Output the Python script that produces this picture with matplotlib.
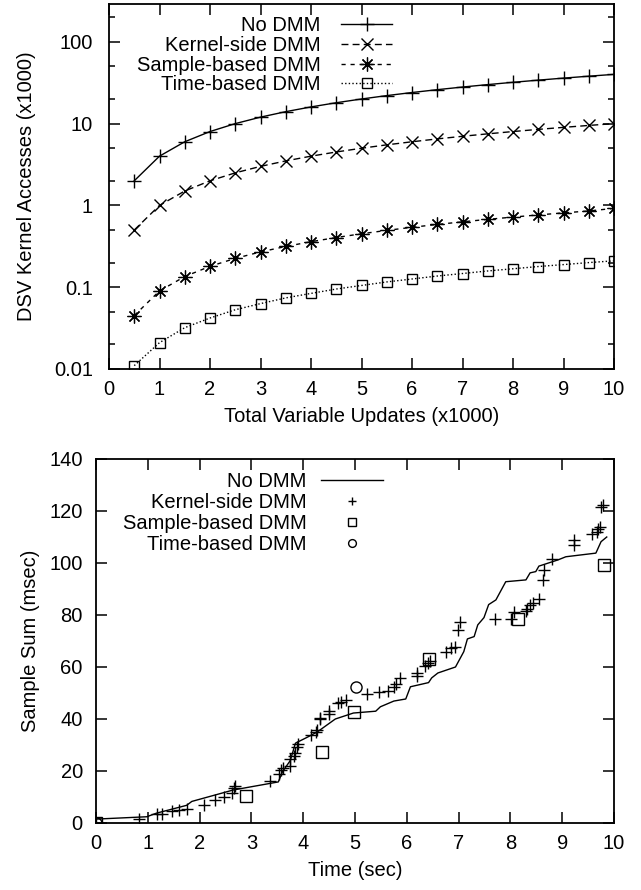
import matplotlib
matplotlib.use("Agg")
import matplotlib.pyplot as plt
from matplotlib.ticker import FixedLocator, FuncFormatter, MultipleLocator


# =========================
# STYLE
# =========================
plt.rcParams["font.family"] = ["Liberation Sans", "DejaVu Sans"]
plt.rcParams["font.size"] = 14.5
plt.rcParams["axes.linewidth"] = 1.3


# =========================
# DATA - top panel (x1000)
# =========================
UPDATES = [0.5, 1.0, 1.5, 2.0, 2.5, 3.0, 3.5, 4.0, 4.5, 5.0,
           5.5, 6.0, 6.5, 7.0, 7.5, 8.0, 8.5, 9.0, 9.5, 10.0]
NO_DMM_ACC = [2, 4, 6, 8, 10, 12, 14, 16, 18, 20,
              22, 24, 26, 28, 30, 32, 34, 36, 38, 40]
KERNEL_ACC = [0.5, 1.0, 1.5, 2.0, 2.5, 3.0, 3.5, 4.0, 4.5, 5.0,
              5.5, 6.0, 6.5, 7.0, 7.5, 8.0, 8.5, 9.0, 9.5, 10.0]
SAMPLE_ACC = [0.045, 0.09, 0.135, 0.18, 0.225, 0.27, 0.315, 0.36, 0.405, 0.45,
              0.495, 0.54, 0.585, 0.63, 0.675, 0.72, 0.765, 0.81, 0.855, 0.92]
TIMEB_ACC = [0.011, 0.021, 0.032, 0.042, 0.053, 0.063, 0.074, 0.084, 0.095, 0.105,
             0.116, 0.126, 0.137, 0.147, 0.158, 0.168, 0.179, 0.189, 0.2, 0.21]

# =========================
# DATA - bottom panel
# =========================
NO_DMM_T = [0.0, 0.98, 1.17, 1.5, 1.75, 1.85, 2.65, 3.52, 3.6, 3.75, 3.85,
            4.08, 4.27, 4.62, 4.97, 5.4, 5.49, 5.75, 5.98, 6.07, 6.42, 6.48,
            6.6, 6.94, 7.1, 7.17, 7.3, 7.37, 7.49, 7.58, 7.72, 7.91, 8.3,
            8.38, 8.49, 8.55, 8.92, 9.07, 9.65, 9.75, 9.86]
NO_DMM_SUM = [1.5, 2.4, 3.8, 5.5, 6.8, 8.3, 12.7, 15.8, 19.7, 24.0, 30.7,
              33.0, 35.0, 40.0, 42.3, 43.0, 44.7, 46.9, 47.7, 52.4, 54.0, 55.8,
              57.7, 60.0, 65.9, 70.8, 71.7, 76.2, 79.0, 84.0, 85.8, 92.8, 93.5,
              96.2, 96.7, 98.8, 101.2, 102.4, 103.8, 108.2, 110.0]

KERNEL_T = [0.0, 0.83, 1.17, 1.27, 1.46, 1.61, 1.75, 2.08, 2.3, 2.48, 2.62,
            2.67, 2.69, 3.35, 3.54, 3.57, 3.61, 3.75, 3.75, 3.82, 3.85, 3.88,
            3.9, 4.15, 4.24, 4.27, 4.32, 4.33, 4.49, 4.49, 4.67, 4.73, 4.82,
            5.24, 5.47, 5.63, 5.76, 5.8, 5.87, 6.19, 6.2, 6.36, 6.4, 6.45,
            6.76, 6.86, 6.94, 6.98, 7.02, 7.7, 8.01, 8.07, 8.3, 8.33, 8.38,
            8.43, 8.56, 8.62, 8.65, 8.81, 9.22, 9.23, 9.57, 9.67, 9.7, 9.73,
            9.75, 9.78]
KERNEL_SUM = [0.0, 1.6, 3.3, 3.3, 4.7, 5.0, 5.3, 6.8, 8.7, 10.1, 11.4,
              13.3, 14.3, 16.3, 18.7, 20.4, 21.0, 21.9, 24.8, 25.8, 27.0, 29.3,
              30.3, 33.8, 35.1, 35.8, 40.0, 40.3, 42.1, 43.1, 46.0, 46.7, 47.3,
              49.6, 50.5, 50.8, 52.4, 53.3, 55.9, 56.7, 57.8, 60.4, 61.4, 62.3,
              65.6, 67.4, 67.8, 74.2, 77.4, 78.5, 78.5, 81.3, 81.7, 82.5, 83.8,
              84.5, 86.3, 93.5, 97.5, 101.5, 106.9, 108.8, 111.2, 112.0, 112.9, 113.7,
              121.6, 122.3]

SAMPLE_T = [0.0, 2.9, 4.37, 4.99, 6.43, 8.15, 9.8]
SAMPLE_SUM = [0.0, 10.4, 27.4, 42.6, 63.1, 78.3, 99.3]

TIMEB_T = [0.0, 5.01]
TIMEB_SUM = [0.0, 52.3]


# =========================
# HELPERS
# =========================
def style_ticks(ax, ypad):
    ax.tick_params(which="both", direction="in", top=True, right=True)
    ax.tick_params(axis="x", which="both", pad=8)
    ax.tick_params(axis="y", which="both", pad=ypad)
    ax.tick_params(which="major", length=8, width=1.1)
    ax.tick_params(which="minor", length=4.5, width=1.1)


def plain_log(v, _pos):
    return f"{v:g}"


# =========================
# PLOTS
# =========================
def plot_accesses(ax):
    ax.plot(UPDATES, NO_DMM_ACC, color="black", lw=1.0, ls="-",
            marker="+", ms=10, mew=1.0, label="No DMM")
    ax.plot(UPDATES, KERNEL_ACC, color="black", lw=1.0, ls=(0, (5, 3)),
            marker="x", ms=8, mew=1.0, label="Kernel-side DMM")
    ax.plot(UPDATES, SAMPLE_ACC, color="black", lw=1.0, ls=(0, (3, 3.5)),
            marker=(8, 2, 0), ms=10, mew=0.9, label="Sample-based DMM")
    ax.plot(UPDATES, TIMEB_ACC, color="black", lw=1.0, ls=(0, (1, 1.6)),
            marker="s", ms=7.5, mew=1.0, mfc="none", label="Time-based DMM")

    ax.set_yscale("log")
    ax.set_xlim(0, 10)
    ax.set_ylim(0.01, 290)
    ax.xaxis.set_major_locator(MultipleLocator(1))
    ax.yaxis.set_major_locator(FixedLocator([0.01, 0.1, 1, 10, 100]))
    ax.yaxis.set_minor_locator(FixedLocator([0.02, 0.05, 0.2, 0.5, 2, 5, 20, 50, 200]))
    ax.yaxis.set_major_formatter(FuncFormatter(plain_log))
    ax.yaxis.set_minor_formatter(FuncFormatter(lambda v, p: ""))
    style_ticks(ax, ypad=11.5)

    ax.set_xlabel("Total Variable Updates (x1000)", labelpad=6)
    ax.set_ylabel("DSV Kernel Accesses (x1000)", labelpad=13)

    ax.legend(loc="upper right", bbox_to_anchor=(0.585, 1.0), frameon=False,
              markerfirst=False, handlelength=2.55, handletextpad=1.0,
              labelspacing=0.04, borderpad=0.3, borderaxespad=0.3)


def plot_sample_sum(ax):
    ax.plot(NO_DMM_T, NO_DMM_SUM, color="black", lw=1.0, label="No DMM")
    ax.plot(KERNEL_T, KERNEL_SUM, ls="none", color="black",
            marker="+", ms=9, mew=1.0, label="Kernel-side DMM")
    ax.plot(SAMPLE_T, SAMPLE_SUM, ls="none", color="black",
            marker="s", ms=8, mew=1.0, mfc="none", label="Sample-based DMM")
    ax.plot(TIMEB_T, TIMEB_SUM, ls="none", color="black",
            marker="o", ms=8, mew=1.0, mfc="none", label="Time-based DMM")

    ax.set_xlim(0, 10)
    ax.set_ylim(0, 140)
    ax.xaxis.set_major_locator(MultipleLocator(1))
    ax.yaxis.set_major_locator(MultipleLocator(20))
    style_ticks(ax, ypad=9.5)

    ax.set_xlabel("Time (sec)", labelpad=6)
    ax.set_ylabel("Sample Sum (msec)", labelpad=7)

    ax.legend(loc="upper right", bbox_to_anchor=(0.58, 1.0), frameon=False,
              markerfirst=False, handlelength=3.1, handletextpad=0.7,
              labelspacing=0.1, borderpad=0.3, borderaxespad=0.35,
              numpoints=1, markerscale=0.7)


# =========================
# MAIN
# =========================
def main() -> None:
    fig = plt.figure(figsize=(6.41, 8.90), dpi=100)
    ax_top = fig.add_axes([109 / 641, 1 - 369 / 890, 505 / 641, 365 / 890])
    ax_bot = fig.add_axes([96 / 641, 1 - 823 / 890, 518 / 641, 364 / 890])

    plot_accesses(ax_top)
    plot_sample_sum(ax_bot)

    fig.savefig("out.png", dpi=100)
    plt.close(fig)


if __name__ == "__main__":
    main()
